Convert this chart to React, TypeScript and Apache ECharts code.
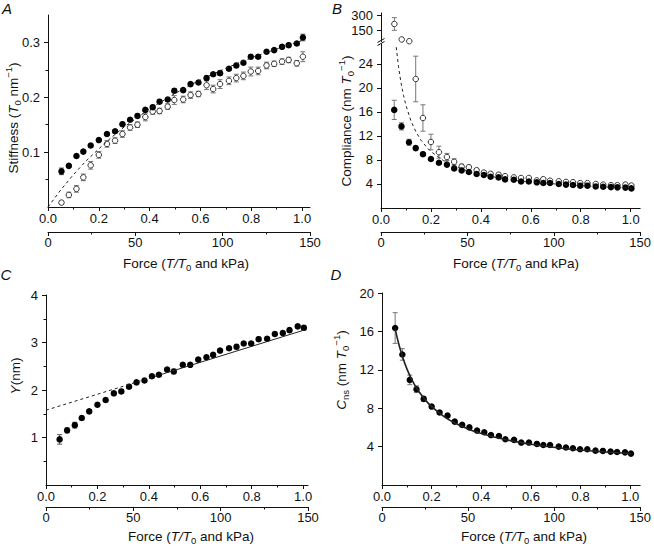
import React, { useEffect, useRef } from "react";
import * as echarts from "echarts";

// ---------- data ----------
const FORCE = [0.053, 0.082, 0.112, 0.139, 0.168, 0.2, 0.232, 0.264, 0.293, 0.323, 0.352, 0.383, 0.412, 0.439, 0.471, 0.497, 0.532, 0.561, 0.592, 0.624, 0.65, 0.677, 0.712, 0.741, 0.769, 0.798, 0.827, 0.86, 0.89, 0.921, 0.947, 0.979, 1.003];

// A: stiffness
const STIFF_FILLED = [0.065, 0.075, 0.093, 0.101, 0.112, 0.122, 0.133, 0.138, 0.151, 0.159, 0.166, 0.177, 0.182, 0.192, 0.196, 0.212, 0.213, 0.224, 0.227, 0.235, 0.242, 0.244, 0.252, 0.258, 0.263, 0.274, 0.274, 0.283, 0.286, 0.292, 0.295, 0.298, 0.309];
const STIFF_FILLED_ERR = [0.006, 0.003, 0.003, 0.003, 0.003, 0.003, 0.003, 0.003, 0.003, 0.003, 0.003, 0.003, 0.003, 0.003, 0.003, 0.004, 0.003, 0.003, 0.003, 0.004, 0.003, 0.004, 0.003, 0.004, 0.003, 0.004, 0.003, 0.003, 0.003, 0.003, 0.003, 0.003, 0.006];
const STIFF_OPEN = [0.008, 0.022, 0.033, 0.054, 0.076, 0.095, 0.115, 0.121, 0.133, 0.145, 0.15, 0.164, 0.174, 0.175, 0.183, 0.195, 0.196, 0.204, 0.206, 0.222, 0.215, 0.224, 0.23, 0.235, 0.239, 0.247, 0.248, 0.258, 0.261, 0.265, 0.268, 0.262, 0.274];
const STIFF_OPEN_ERR = [0.003, 0.005, 0.006, 0.006, 0.007, 0.006, 0.006, 0.005, 0.006, 0.005, 0.005, 0.007, 0.005, 0.005, 0.005, 0.008, 0.006, 0.006, 0.005, 0.008, 0.007, 0.008, 0.007, 0.007, 0.007, 0.008, 0.007, 0.006, 0.005, 0.005, 0.005, 0.005, 0.009];
const STIFF_FIT_F = [0, 0.05, 0.1, 0.15, 0.2, 0.25, 0.3, 0.4, 0.5, 0.6, 0.7, 0.8, 0.9, 1.003];
const STIFF_FIT = [0, 0.031, 0.059, 0.084, 0.106, 0.127, 0.146, 0.179, 0.207, 0.232, 0.253, 0.272, 0.288, 0.304];

// B / D: compliance
const COMP_FILLED = [16.35, 13.6, 10.95, 9.98, 8.97, 8.17, 7.55, 7.23, 6.6, 6.26, 6.0, 5.67, 5.5, 5.2, 5.1, 4.77, 4.7, 4.42, 4.42, 4.28, 4.17, 4.17, 4.0, 3.9, 3.83, 3.72, 3.72, 3.58, 3.55, 3.48, 3.44, 3.4, 3.27];
const COMP_FILLED_ERR = [1.6, 0.6, 0.5, 0.35, 0.25, 0.2, 0.2, 0.2, 0.15, 0.15, 0.15, 0.15, 0.15, 0.15, 0.12, 0.12, 0.12, 0.12, 0.12, 0.1, 0.1, 0.1, 0.1, 0.1, 0.1, 0.1, 0.1, 0.1, 0.1, 0.1, 0.1, 0.1, 0.1];
const COMP_OPEN = [212, 60, 43, 21.5, 15.0, 11.0, 9.3, 8.5, 7.7, 6.9, 6.8, 6.3, 5.9, 5.7, 5.55, 5.3, 5.1, 5.0, 5.0, 4.6, 4.8, 4.55, 4.45, 4.35, 4.3, 4.15, 4.15, 4.0, 3.9, 3.8, 3.8, 3.9, 3.75];
const COMP_OPEN_ERR = [62, 0, 0, 3.8, 2.2, 1.3, 1.0, 0.6, 0.5, 0.4, 0.3, 0.3, 0.3, 0.25, 0.25, 0.25, 0.2, 0.2, 0.2, 0.2, 0.2, 0.2, 0.2, 0.2, 0.2, 0.2, 0.2, 0.2, 0.2, 0.2, 0.2, 0.2, 0.2];
const COMP_FIT_F = [0.061, 0.07, 0.08, 0.09, 0.1, 0.12, 0.14, 0.16, 0.18, 0.2, 0.25, 0.3, 0.35, 0.4, 0.5, 0.6, 0.7, 0.8, 0.9, 1.003];
const COMP_FIT = [26.8, 23.6, 20.9, 18.8, 17.1, 14.5, 12.7, 11.3, 10.3, 9.4, 7.9, 6.9, 6.1, 5.6, 4.8, 4.3, 4.0, 3.7, 3.5, 3.3];

// C: Y
const Y_FILLED = [0.96, 1.15, 1.26, 1.41, 1.55, 1.69, 1.79, 1.93, 1.97, 2.07, 2.16, 2.2, 2.29, 2.32, 2.43, 2.39, 2.53, 2.53, 2.64, 2.69, 2.74, 2.83, 2.88, 2.91, 2.98, 2.98, 3.07, 3.08, 3.18, 3.2, 3.26, 3.34, 3.31];
const Y_ERR = [0.1, 0.05, 0.06, 0.04, 0.04, 0.04, 0.04, 0.04, 0.04, 0.04, 0.04, 0.04, 0.04, 0.04, 0.04, 0.05, 0.04, 0.04, 0.04, 0.04, 0.04, 0.04, 0.04, 0.05, 0.04, 0.04, 0.04, 0.04, 0.04, 0.04, 0.04, 0.04, 0.05];
const Y_FIT_DASH_F = [0, 0.45];
const Y_FIT_DASH = [1.575, 2.33];
const Y_FIT_SOLID_F = [0.45, 1.003];
const Y_FIT_SOLID = [2.33, 3.26];

// D: Cns fit
const CNS_FIT_F = [0.053, 0.07, 0.09, 0.11, 0.13, 0.15, 0.175, 0.2, 0.25, 0.3, 0.35, 0.4, 0.5, 0.6, 0.7, 0.8, 0.9, 1.003];
const CNS_FIT = [16.29, 14.45, 12.8, 11.52, 10.51, 9.68, 8.85, 8.17, 7.13, 6.38, 5.81, 5.36, 4.71, 4.25, 3.91, 3.64, 3.44, 3.27];

// ticks
const T_TICKS = [0, 0.2, 0.4, 0.6, 0.8, 1.0];
const T_MINOR = [0.1, 0.3, 0.5, 0.7, 0.9];
const STIFF_TICKS = [0.1, 0.2, 0.3];
const STIFF_MINOR = [0.05, 0.15, 0.25];
const COMP_TICKS = [4, 8, 12, 16, 20, 24];
const COMP_UPPER_TICKS = [150, 300];
const Y_TICKS = [1, 2, 3, 4];
const Y_MINOR = [0.5, 1.5, 2.5, 3.5];
const CNS_TICKS = [4, 8, 12, 16, 20];

const FONT = "'Liberation Sans', Arial, Helvetica, sans-serif";
const TICK_FS = 13;
const NAME_FS = 13.5;
const INK = "#111";

const pairs = (xs: number[], ys: number[]) => xs.map((x, i) => [x, ys[i]]);
const triples = (xs: number[], ys: number[], es: number[]) => xs.map((x, i) => [x, ys[i], es[i]]);

const errorRender = (color: string) => (params: any, api: any) => {
  const x = api.value(0);
  const y = api.value(1);
  const e = api.value(2);
  if (!e) return null;
  const p1 = api.coord([x, y + e]);
  const p2 = api.coord([x, y - e]);
  const w = 2.5;
  const style = { stroke: color, lineWidth: 1, fill: null };
  return {
    type: "group",
    children: [
      { type: "line", shape: { x1: p1[0], y1: p1[1], x2: p2[0], y2: p2[1] }, style },
      { type: "line", shape: { x1: p1[0] - w, y1: p1[1], x2: p1[0] + w, y2: p1[1] }, style },
      { type: "line", shape: { x1: p2[0] - w, y1: p2[1], x2: p2[0] + w, y2: p2[1] }, style },
    ],
  };
};

const rich: any = {
  n: { fontFamily: FONT, fontSize: NAME_FS, lineHeight: 19, verticalAlign: "middle", fill: INK },
  i: { fontFamily: FONT, fontSize: NAME_FS, lineHeight: 19, verticalAlign: "middle", fontStyle: "italic", fill: INK },
  sub: { fontFamily: FONT, fontSize: 9.5, lineHeight: 9.5, verticalAlign: "bottom", fill: INK },
  sup: { fontFamily: FONT, fontSize: 9.5, lineHeight: 9.5, verticalAlign: "top", fill: INK },
};

function nameText(x: number, y: number, text: string, vertical: boolean) {
  return {
    type: "text",
    x,
    y,
    rotation: vertical ? Math.PI / 2 : 0,
    silent: true,
    style: { text, rich, align: "center", verticalAlign: "middle", fill: INK },
  };
}

function letter(x: number, y: number, t: string) {
  return {
    type: "text",
    x,
    y,
    silent: true,
    style: {
      text: t,
      fontFamily: FONT,
      fontSize: 15,
      fontStyle: "italic",
      fill: INK,
      align: "center",
      verticalAlign: "middle",
    },
  };
}

const axisLineStyle = { color: INK, width: 1 };

function tMain(grid: number, tmax: number) {
  return {
    type: "value",
    gridIndex: grid,
    min: 0,
    max: tmax,
    position: "bottom",
    axisLine: { show: true, onZero: false, lineStyle: axisLineStyle },
    axisTick: { show: true, length: 4, customValues: T_TICKS, lineStyle: axisLineStyle },
    axisLabel: {
      show: true,
      customValues: T_TICKS,
      formatter: (v: number) => v.toFixed(1),
      margin: 5,
      fontSize: TICK_FS,
      fontFamily: FONT,
      color: INK,
    },
    splitLine: { show: false },
  };
}
function tMinor(grid: number, tmax: number) {
  return {
    type: "value",
    gridIndex: grid,
    min: 0,
    max: tmax,
    position: "bottom",
    axisLine: { show: false, onZero: false },
    axisTick: { show: true, length: 2.5, customValues: T_MINOR, lineStyle: axisLineStyle },
    axisLabel: { show: false },
    splitLine: { show: false },
  };
}
function kpaAxis(grid: number, offset: number) {
  return {
    type: "value",
    gridIndex: grid,
    min: 0,
    max: 150,
    interval: 50,
    position: "bottom",
    offset,
    axisLine: { show: true, onZero: false, lineStyle: axisLineStyle },
    axisTick: { show: true, length: 4, lineStyle: axisLineStyle },
    minorTick: { show: true, splitNumber: 2, length: 2.5, lineStyle: axisLineStyle },
    axisLabel: { margin: 4, fontSize: TICK_FS, fontFamily: FONT, color: INK },
    splitLine: { show: false },
    minorSplitLine: { show: false },
  };
}
function yMain(grid: number, min: number, max: number, ticks: number[], fmt?: (v: number) => string) {
  return {
    type: "value",
    gridIndex: grid,
    min,
    max,
    position: "left",
    axisLine: { show: true, onZero: false, lineStyle: axisLineStyle },
    axisTick: { show: true, length: 4, customValues: ticks, lineStyle: axisLineStyle },
    axisLabel: {
      show: true,
      customValues: ticks,
      formatter: fmt || ((v: number) => String(v)),
      margin: 8,
      fontSize: TICK_FS,
      fontFamily: FONT,
      color: INK,
    },
    splitLine: { show: false },
  };
}
function yMinor(grid: number, min: number, max: number, ticks: number[]) {
  return {
    type: "value",
    gridIndex: grid,
    min,
    max,
    position: "left",
    axisLine: { show: false, onZero: false },
    axisTick: { show: true, length: 2.5, customValues: ticks, lineStyle: axisLineStyle },
    axisLabel: { show: false },
    splitLine: { show: false },
  };
}

const T_MAX_A = 1.031;
const T_MAX_B = 1.038;
const T_MAX_C = 1.019;
const T_MAX_D = 1.04;
const B_SPLIT = 27.33;

function buildOption() {
  const grid = [
    { left: 48, top: 15, width: 262, height: 192 }, // 0 A
    { left: 381, top: 13, width: 262, height: 28.5 }, // 1 B upper
    { left: 381, top: 44, width: 262, height: 164 }, // 2 B lower
    { left: 46, top: 295, width: 262, height: 190 }, // 3 C
    { left: 382, top: 293, width: 261, height: 192 }, // 4 D
  ];

  const xAxis: any[] = [
    tMain(0, T_MAX_A), // 0
    tMinor(0, T_MAX_A), // 1
    kpaAxis(0, 25), // 2
    { type: "value", gridIndex: 1, min: 0, max: T_MAX_B, show: false }, // 3 B upper
    tMain(2, T_MAX_B), // 4
    tMinor(2, T_MAX_B), // 5
    kpaAxis(2, 24), // 6
    tMain(3, T_MAX_C), // 7
    tMinor(3, T_MAX_C), // 8
    kpaAxis(3, 22), // 9
    tMain(4, T_MAX_D), // 10
    tMinor(4, T_MAX_D), // 11
    kpaAxis(4, 22), // 12
  ];

  const yAxis: any[] = [
    yMain(0, 0, 0.35, STIFF_TICKS, (v) => v.toFixed(1)), // 0
    yMinor(0, 0, 0.35, STIFF_MINOR), // 1
    yMain(1, 40, 320, COMP_UPPER_TICKS), // 2
    yMain(2, 0, B_SPLIT, COMP_TICKS), // 3
    yMain(3, 0, 4, Y_TICKS), // 4
    yMinor(3, 0, 4, Y_MINOR), // 5
    yMain(4, 0, 20, CNS_TICKS), // 6
  ];

  const errSeries = (xi: number, yi: number, data: number[][], color: string) => ({
    type: "custom",
    xAxisIndex: xi,
    yAxisIndex: yi,
    renderItem: errorRender(color),
    encode: { x: 0, y: 1 },
    data,
    clip: true,
    silent: true,
  });
  const filledScatter = (xi: number, yi: number, data: number[][]) => ({
    type: "scatter",
    xAxisIndex: xi,
    yAxisIndex: yi,
    symbol: "circle",
    symbolSize: 6.5,
    itemStyle: { color: "#000", opacity: 1 },
    data,
    silent: true,
  });
  const openScatter = (xi: number, yi: number, data: number[][]) => ({
    type: "scatter",
    xAxisIndex: xi,
    yAxisIndex: yi,
    symbol: "circle",
    symbolSize: 5.5,
    itemStyle: { color: "#fff", borderColor: "#333", borderWidth: 1, opacity: 1 },
    data,
    clip: true,
    silent: true,
  });
  const fitLine = (xi: number, yi: number, data: number[][], dashed: boolean, width = 1, smooth = false) => ({
    type: "line",
    xAxisIndex: xi,
    yAxisIndex: yi,
    data,
    symbol: "none",
    smooth,
    lineStyle: { color: "#222", width, type: dashed ? [3, 3] : "solid" },
    silent: true,
  });

  const compOpen = triples(FORCE, COMP_OPEN, COMP_OPEN_ERR);
  const compOpenUpper = compOpen.filter((d) => d[1] > B_SPLIT);
  const compOpenLower = compOpen.filter((d) => d[1] <= B_SPLIT);

  const series: any[] = [
    // A
    errSeries(0, 0, triples(FORCE, STIFF_OPEN, STIFF_OPEN_ERR), "#777"),
    errSeries(0, 0, triples(FORCE, STIFF_FILLED, STIFF_FILLED_ERR), "#555"),
    fitLine(0, 0, pairs(STIFF_FIT_F, STIFF_FIT), true),
    openScatter(0, 0, pairs(FORCE, STIFF_OPEN)),
    filledScatter(0, 0, pairs(FORCE, STIFF_FILLED)),
    // B upper
    errSeries(3, 2, compOpenUpper, "#777"),
    openScatter(3, 2, compOpenUpper.map((d) => [d[0], d[1]])),
    // B lower
    errSeries(4, 3, compOpenLower, "#777"),
    errSeries(4, 3, triples(FORCE, COMP_FILLED, COMP_FILLED_ERR), "#777"),
    fitLine(4, 3, pairs(COMP_FIT_F, COMP_FIT), true),
    openScatter(4, 3, compOpenLower.map((d) => [d[0], d[1]])),
    filledScatter(4, 3, pairs(FORCE, COMP_FILLED)),
    // C
    errSeries(7, 4, triples(FORCE, Y_FILLED, Y_ERR), "#555"),
    fitLine(7, 4, pairs(Y_FIT_DASH_F, Y_FIT_DASH), true),
    fitLine(7, 4, pairs(Y_FIT_SOLID_F, Y_FIT_SOLID), false),
    filledScatter(7, 4, pairs(FORCE, Y_FILLED)),
    // D
    errSeries(10, 6, triples(FORCE, COMP_FILLED, COMP_FILLED_ERR), "#777"),
    fitLine(10, 6, pairs(CNS_FIT_F, CNS_FIT), false, 1.6, true),
    filledScatter(10, 6, pairs(FORCE, COMP_FILLED)),
  ];

  const forceName = "{n|Force (}{i|T/T}{sub|0}{n| and kPa)}";
  const graphic: any[] = [
    letter(7, 8, "A"),
    letter(337, 8, "B"),
    letter(6, 274, "C"),
    letter(336, 274, "D"),
    nameText(186, 263, forceName, false),
    nameText(516, 263, forceName, false),
    nameText(191, 536, forceName, false),
    nameText(524, 536, forceName, false),
    nameText(13, 118, "{n|Stiffness (}{i|T}{sub|0}{n| nm}{sup|−1}{n|)}", true),
    nameText(346, 121, "{n|Compliance (nm }{i|T}{sub|0}{sup|−1}{n|)}", true),
    nameText(15, 376, "{i|Y}{n|(nm)}", true),
    nameText(341, 370, "{i|C}{sub|ns}{n| (nm }{i|T}{sub|0}{sup|−1}{n|)}", true),
    // axis break marks on panel B
    { type: "rect", shape: { x: 378, y: 41.5, width: 6, height: 2.5 }, style: { fill: "#fff" }, silent: true },
    { type: "line", shape: { x1: 377.5, y1: 42.5, x2: 384.5, y2: 38.5 }, style: { stroke: INK, lineWidth: 1 }, silent: true },
    { type: "line", shape: { x1: 377.5, y1: 45.5, x2: 384.5, y2: 41.5 }, style: { stroke: INK, lineWidth: 1 }, silent: true },
  ];

  return {
    animation: false,
    backgroundColor: "#fff",
    textStyle: { fontFamily: FONT },
    grid,
    xAxis,
    yAxis,
    series,
    graphic,
  };
}

export default function App() {
  const ref = useRef<HTMLDivElement>(null);
  useEffect(() => {
    if (!ref.current) return;
    const chart = echarts.init(ref.current, undefined, { renderer: "svg" });
    chart.setOption(buildOption() as any);
    return () => chart.dispose();
  }, []);
  return (
    <div
      ref={ref}
      style={{ position: "fixed", left: 0, top: 0, width: 654, height: 547, background: "#fff" }}
    />
  );
}
